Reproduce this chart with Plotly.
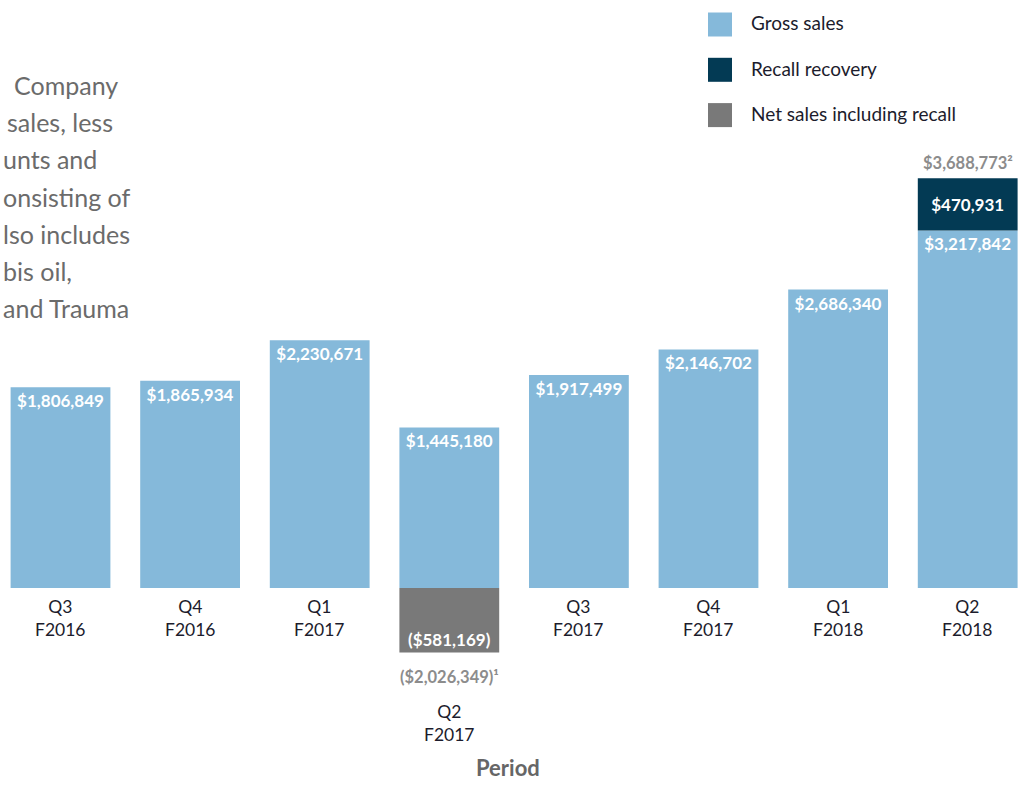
import plotly.graph_objects as go

# ---- data ----
periods = ["Q3 F2016", "Q4 F2016", "Q1 F2017", "Q2 F2017",
           "Q3 F2017", "Q4 F2017", "Q1 F2018", "Q2 F2018"]
tick_labels = ["Q3<br>F2016", "Q4<br>F2016", "Q1<br>F2017", "Q2<br>F2017",
               "Q3<br>F2017", "Q4<br>F2017", "Q1<br>F2018", "Q2<br>F2018"]
gross_sales = [1806849, 1865934, 2230671, 1445180,
               1917499, 2146702, 2686340, 3217842]
recovery_periods = ["Q2 F2018"]
recall_recovery = [470931]
net_periods = ["Q2 F2017"]
net_including_recall = [-581169]
net_footnote_value = -2026349      # ($2,026,349)¹
total_footnote_value = 3688773     # $3,688,773²
series_names = ["Gross sales", "Recall recovery", "Net sales including recall"]
side_text = ["Company", "sales, less", "unts and", "onsisting of",
             "lso includes", "bis oil,", "and Trauma"]

# ---- styles ----
LIGHT = "#85b9da"
DARK = "#033a54"
GRAY = "#797979"
FONT = "Lato"
W, H = 1020, 785
BASE_PX = 588
SCALE = 9000  # value units per pixel


def money(v):
    return f"(${abs(v):,})" if v < 0 else f"${v:,}"


fig = go.Figure()
bar_common = dict(width=0.77, constraintext="none", cliponaxis=False,
                  textposition="inside", marker_line_width=0,
                  textfont=dict(family=FONT, size=17, color="white", weight="bold"))
fig.add_trace(go.Bar(x=periods, y=gross_sales, name=series_names[0],
                     marker_color=LIGHT, text=[money(v) for v in gross_sales],
                     insidetextanchor="end", **bar_common))
fig.add_trace(go.Bar(x=recovery_periods, y=recall_recovery, name=series_names[1],
                     marker_color=DARK, text=[money(v) for v in recall_recovery],
                     insidetextanchor="middle", **bar_common))
fig.add_trace(go.Bar(x=net_periods, y=net_including_recall, name=series_names[2],
                     marker_color=GRAY, text=[money(v) for v in net_including_recall],
                     insidetextanchor="end", **bar_common))

ann = []
# tick labels
for p, lab in zip(periods, tick_labels):
    if p in net_periods:
        continue
    ann.append(dict(x=p, y=0, xref="x", yref="y", text=lab, showarrow=False,
                    yanchor="top", yshift=-6,
                    font=dict(family=FONT, size=17.5, color="#1c1c2c")))
# lowered label for the negative period
ann.append(dict(x=net_periods[0], y=net_including_recall[0], xref="x", yref="y",
                text=tick_labels[periods.index(net_periods[0])], showarrow=False,
                yanchor="top", yshift=-46,
                font=dict(family=FONT, size=17.5, color="#1c1c2c")))
# footnote value labels
ann.append(dict(x=net_periods[0], y=net_including_recall[0], xref="x", yref="y",
                text=money(net_footnote_value) + "¹", showarrow=False,
                yanchor="top", yshift=-12,
                font=dict(family=FONT, size=16.5, color="#8c8c8c", weight="bold")))
ann.append(dict(x=recovery_periods[0], y=gross_sales[-1] + recall_recovery[0],
                xref="x", yref="y", text=money(total_footnote_value) + "²",
                showarrow=False, yanchor="bottom", yshift=3,
                font=dict(family=FONT, size=16.5, color="#8c8c8c", weight="bold")))
# axis title
ann.append(dict(x=508 / W, y=1 - 767 / H, xref="paper", yref="paper", text="Period",
                showarrow=False, yanchor="middle",
                font=dict(family=FONT, size=22, color="#666666", weight="bold")))
# side text (the visible fragments of a paragraph cut at the left edge)
left_edges = [12, 5, 1, 1, 1, 1, 1]
for i, (t, lx) in enumerate(zip(side_text, left_edges)):
    ann.append(dict(x=lx / W, y=1 - (85 + i * 37.2) / H, xref="paper", yref="paper",
                    text=t, showarrow=False, xanchor="left", yanchor="middle",
                    font=dict(family=FONT, size=25, color="#6b6b6b")))

# custom legend
shapes = []
for i, (name, col) in enumerate(zip(series_names, [LIGHT, DARK, GRAY])):
    cy = 24.5 + i * 45.3
    shapes.append(dict(type="rect", xref="paper", yref="paper",
                       x0=708 / W, x1=732 / W, y0=1 - (cy - 12) / H, y1=1 - (cy + 12) / H,
                       fillcolor=col, line_width=0))
    ann.append(dict(x=749 / W, y=1 - (cy - 1.5) / H, xref="paper", yref="paper",
                    text=name, showarrow=False, xanchor="left", yanchor="middle",
                    font=dict(family=FONT, size=19, color="#1c1c2c")))

fig.update_layout(
    width=W, height=H, barmode="relative", showlegend=False,
    margin=dict(l=0, r=0, t=0, b=0),
    paper_bgcolor="white", plot_bgcolor="white",
    xaxis=dict(range=[-60.5 / 129.6, -60.5 / 129.6 + W / 129.6],
               showticklabels=False, showgrid=False, zeroline=False, showline=False,
               fixedrange=True),
    yaxis=dict(range=[-(H - BASE_PX) * SCALE, BASE_PX * SCALE], visible=False,
               showgrid=False, zeroline=False, fixedrange=True),
    annotations=ann, shapes=shapes,
    font=dict(family=FONT),
)

fig.write_html("out.html",
               config={"displayModeBar": False},
               post_script="document.body.style.margin='0';"
                           "document.body.style.overflow='hidden';")
